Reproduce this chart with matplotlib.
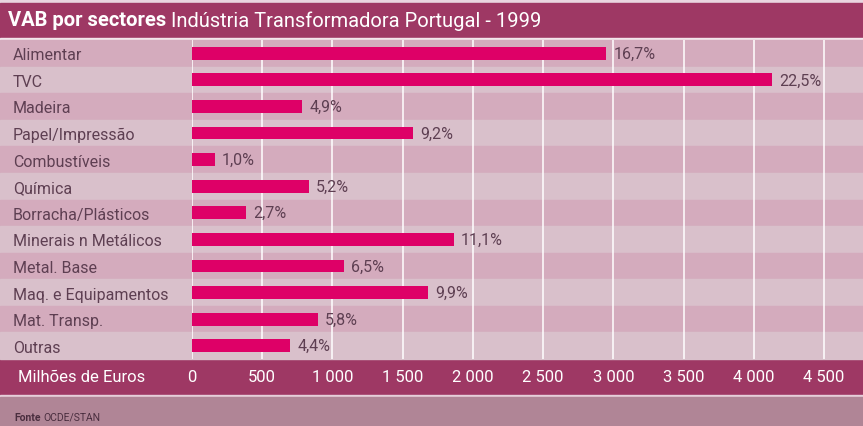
import matplotlib
matplotlib.use('Agg')
import matplotlib.pyplot as plt
from matplotlib.patches import Rectangle
from matplotlib.transforms import blended_transform_factory

categories = ['Alimentar', 'TVC', 'Madeira', 'Papel/Impressão', 'Combustíveis',
              'Química', 'Borracha/Plásticos', 'Minerais n Metálicos', 'Metal. Base',
              'Maq. e Equipamentos', 'Mat. Transp.', 'Outras']
values = [2950, 4130, 785, 1575, 165, 835, 385, 1865, 1080, 1680, 895, 700]
shares = ['16,7%', '22,5%', '4,9%', '9,2%', '1,0%', '5,2%', '2,7%', '11,1%',
          '6,5%', '9,9%', '5,8%', '4,4%']
ticks = [0, 500, 1000, 1500, 2000, 2500, 3000, 3500, 4000, 4500]
tick_labels = ['0', '500', '1 000', '1 500', '2 000', '2 500', '3 000', '3 500',
               '4 000', '4 500']

plt.rcParams['font.family'] = ['Roboto', 'DejaVu Sans']

W, H = 863, 427
DARK = '#9e3864'
BAR = '#de0067'
ROW_A = '#d4abbd'
ROW_B = '#d9c0cb'
FOOT = '#b08596'
TXT = '#5e3f52'

fig = plt.figure(figsize=(W / 100, H / 100), dpi=100)
fig.patch.set_facecolor('#e9d5e0')


def fx(px):
    return px / W


def fy(py):
    return 1 - py / H


def band(y0, y1, color):
    fig.patches.append(Rectangle((0, fy(y1)), 1, fy(y0) - fy(y1),
                                 transform=fig.transFigure, color=color, zorder=-5))


band(4, 39, DARK)
band(39, 41, '#f3e6ec')
band(360, 396, DARK)
band(396, 398, '#e6cfda')
band(398, 427, FOOT)

ax_left, ax_right, ax_top, ax_bot = 192, 863, 41, 360
ax = fig.add_axes([fx(ax_left), fy(ax_bot), (ax_right - ax_left) / W, (ax_bot - ax_top) / H])
ax.patch.set_visible(False)
n = len(categories)
ax.set_ylim(n - 0.5, -0.5)
ax.set_xlim(0, 4500 * (ax_right - ax_left) / (824 - 192))

tr = blended_transform_factory(fig.transFigure, ax.transData)
for i in range(n):
    ax.add_patch(Rectangle((0, i - 0.5), 1, 1, transform=tr,
                           color=ROW_A if i % 2 == 0 else ROW_B,
                           zorder=0, clip_on=False))

for t in ticks:
    ax.axvline(t, color='white', lw=1.3, zorder=1, alpha=0.85)

ax.barh(range(n), values, height=0.48, color=BAR, zorder=2)
for i, (v, s) in enumerate(zip(values, shares)):
    ax.annotate(s, (v, i), xytext=(5, 0), textcoords='offset points',
                va='center', ha='left', fontsize=11.5, color=TXT)

for sp in ax.spines.values():
    sp.set_visible(False)

ax.set_xticks(ticks, tick_labels)
ax.tick_params(axis='x', length=0, pad=7, labelcolor='white', labelsize=12)
ax.set_yticks(range(n), categories)
ax.tick_params(axis='y', length=0, pad=(ax_left - 13) * 0.72, labelsize=11.5, labelcolor=TXT)
for lab in ax.get_yticklabels():
    lab.set_horizontalalignment('left')

fig.text(fx(18), fy(378), 'Milhões de Euros', color='white', fontsize=12, va='center')

t1 = fig.text(fx(8), fy(21), 'VAB por sectores', color='white', fontsize=14.5,
              fontweight='bold', va='center')
f1 = fig.text(fx(14), fy(418), 'Fonte', color='#4a2e3f', fontsize=7.5,
              fontweight='bold', va='center')
fig.canvas.draw()
r = fig.canvas.get_renderer()
bb = t1.get_window_extent(r)
fig.text((bb.x1 + 5) / W, fy(21), 'Indústria Transformadora Portugal - 1999',
         color='white', fontsize=14.5, va='center')
bb2 = f1.get_window_extent(r)
fig.text((bb2.x1 + 3) / W, fy(418), 'OCDE/STAN', color='#4a2e3f', fontsize=7.5,
         va='center')

fig.savefig('out.png', dpi=100, facecolor=fig.get_facecolor())
